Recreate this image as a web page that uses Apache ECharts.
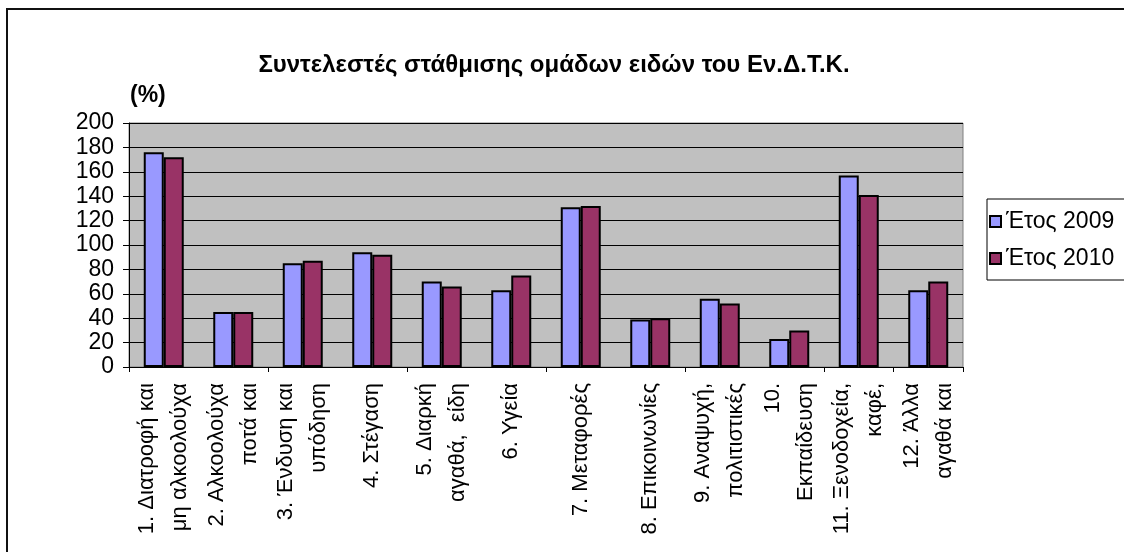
<!DOCTYPE html>
<html>
<head>
<meta charset="utf-8">
<script src="https://cdn.jsdelivr.net/npm/echarts@6/dist/echarts.min.js"></script>
<style>
    html, body {margin: 0; padding: 0; background: #fff;}
    #chart {width: 1124px; height: 552px;}
</style>
</head>
<body>
<div id="chart"></div>
<script>
    //ομάδες ειδών (κομμένες όπως στο γράφημα)
    var categories = [
        '1. Διατροφή και\nμη αλκοολούχα',
        '2. Αλκοολούχα\nποτά και',
        '3. Ένδυση και\nυπόδηση',
        '4. Στέγαση',
        '5. Διαρκή\nαγαθά,  είδη',
        '6. Υγεία',
        '7. Μεταφορές',
        '8. Επικοινωνίες',
        '9. Αναψυχή,\nπολιτιστικές',
        '10.\nΕκπαίδευση',
        '11. Ξενοδοχεία,\nκαφέ,',
        '12. Άλλα\nαγαθά και'
    ];
    var seriesNames = ['Έτος 2009', 'Έτος 2010'];
    var values2009 = [176, 45, 85, 94, 70, 63, 131, 39, 56, 23, 157, 63];
    var values2010 = [172, 45, 87, 92, 66, 75, 132, 40, 52, 30, 141, 70];
    var yTicks = {min: 0, max: 200, step: 20};

    var font = 'Liberation Sans, Arial, sans-serif';
    var chart = echarts.init(document.getElementById('chart'));

    var option = {
        animation: false,
        textStyle: {fontFamily: font},
        title: [{
            text: 'Συντελεστές στάθμισης ομάδων ειδών του Εν.Δ.Τ.Κ.',
            left: 549,
            top: 48,
            textAlign: 'center',
            textStyle: {fontSize: 24, fontWeight: 'bold', color: '#000', fontFamily: font}
        }, {
            text: '(%)',
            left: 125,
            top: 79,
            textStyle: {fontSize: 23, fontWeight: 'bold', color: '#000', fontFamily: font}
        }],
        graphic: [{
            //πλαίσιο περιοχής γραφήματος
            type: 'rect',
            shape: {x: 7, y: 9, width: 1300, height: 700},
            style: {fill: 'none', stroke: '#111', lineWidth: 2},
            silent: true
        }],
        legend: {
            orient: 'vertical',
            left: 987,
            top: 199,
            padding: [11, 30, 10, 2],
            itemGap: 14,
            itemWidth: 11,
            itemHeight: 11,
            itemTextGap: 3,
            icon: 'rect',
            backgroundColor: '#fff',
            borderColor: '#000',
            borderWidth: 1,
            textStyle: {fontSize: 23, color: '#000', fontFamily: font},
            data: seriesNames
        },
        grid: {
            left: 129,
            right: 161,
            top: 123,
            bottom: 185,
            show: true,
            backgroundColor: '#c0c0c0',
            borderColor: '#808080',
            borderWidth: 1
        },
        xAxis: {
            type: 'category',
            data: categories,
            axisLine: {lineStyle: {color: '#000', width: 1}},
            axisTick: {show: true, interval: 1, length: 5, lineStyle: {color: '#000'}},
            axisLabel: {
                interval: 0,
                rotate: 90,
                margin: 16,
                fontSize: 22,
                lineHeight: 33,
                color: '#000',
                fontFamily: font
            }
        },
        yAxis: {
            type: 'value',
            min: yTicks.min,
            max: yTicks.max,
            interval: yTicks.step,
            axisLine: {show: true, lineStyle: {color: '#000', width: 1}},
            axisTick: {show: true, length: 6, lineStyle: {color: '#000'}},
            axisLabel: {margin: 15, fontSize: 23, color: '#000', fontFamily: font},
            splitLine: {show: true, lineStyle: {color: '#000', width: 1}}
        },
        series: [{
            name: seriesNames[0],
            type: 'bar',
            data: values2009,
            barWidth: 20,
            barGap: '0%',
            itemStyle: {color: '#9999ff', borderColor: '#000', borderWidth: 2}
        }, {
            name: seriesNames[1],
            type: 'bar',
            data: values2010,
            barWidth: 20,
            barGap: '0%',
            itemStyle: {color: '#993366', borderColor: '#000', borderWidth: 2}
        }]
    };
    chart.setOption(option);
</script>
</body>
</html>
